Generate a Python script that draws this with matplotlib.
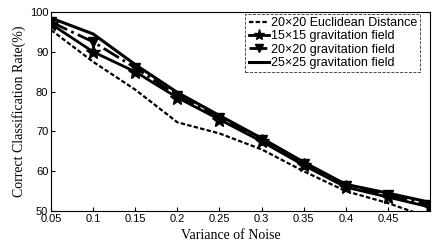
import matplotlib
matplotlib.use("Agg")
import matplotlib.pyplot as plt

noise = [0.05, 0.1, 0.15, 0.2, 0.25, 0.3, 0.35, 0.4, 0.45, 0.5]
euclid_20 = [95.5, 87.5, 80.5, 72.3, 69.5, 65.5, 60.0, 55.0, 52.0, 48.3]
grav_15 = [97.0, 90.0, 85.0, 78.5, 73.0, 67.5, 61.5, 56.0, 53.5, 51.0]
grav_20 = [97.5, 92.5, 86.0, 79.0, 73.5, 67.8, 61.8, 56.2, 54.0, 51.5]
grav_25 = [98.5, 94.5, 86.8, 79.8, 74.0, 68.3, 62.3, 56.7, 54.5, 52.2]
xticks = [0.05, 0.1, 0.15, 0.2, 0.25, 0.3, 0.35, 0.4, 0.45]
yticks = [50, 60, 70, 80, 90, 100]

plt.rcParams['font.family'] = ['Liberation Sans', 'DejaVu Sans']

fig = plt.figure(figsize=(4.33, 2.42), dpi=100)
ax = fig.add_axes([0.118, 0.128, 0.875, 0.822])

ax.plot(noise, euclid_20, color='black', linestyle='--', linewidth=1.6,
        dashes=(2, 1), label='20×20 Euclidean Distance')
ax.plot(noise, grav_15, color='black', linestyle='-', linewidth=2.0,
        marker='*', markersize=10, label='15×15 gravitation field')
ax.plot(noise, grav_20, color='black', linestyle='-.', linewidth=2.0,
        marker='v', markersize=7, label='20×20 gravitation field')
ax.plot(noise, grav_25, color='black', linestyle='-', linewidth=2.2,
        label='25×25 gravitation field')

ax.set_xlim(0.05, 0.5)
ax.set_ylim(50, 100)
ax.set_xticks(xticks)
ax.set_xticklabels([str(t) for t in xticks])
ax.set_yticks(yticks)
ax.tick_params(labelsize=8, direction='in', length=3, pad=2)
for s in ax.spines.values():
    s.set_linewidth(0.8)

ax.set_xlabel('Variance of Noise', family='Liberation Serif', fontsize=10,
              labelpad=1)
ax.xaxis.set_label_coords(0.474, -0.09)
ax.set_ylabel('Correct Classification Rate(%)', family='Liberation Serif',
              fontsize=10, labelpad=3)

leg = ax.legend(loc='upper right', fontsize=9, frameon=True, fancybox=False,
                edgecolor='black', handlelength=1.6, handletextpad=0.2,
                labelspacing=0.1, borderpad=0.25, borderaxespad=0.0,
                bbox_to_anchor=(0.975, 0.99), markerscale=0.8)
leg.get_frame().set_linewidth(0.6)
leg.get_frame().set_linestyle('--')

fig.savefig('out.png', dpi=100)
